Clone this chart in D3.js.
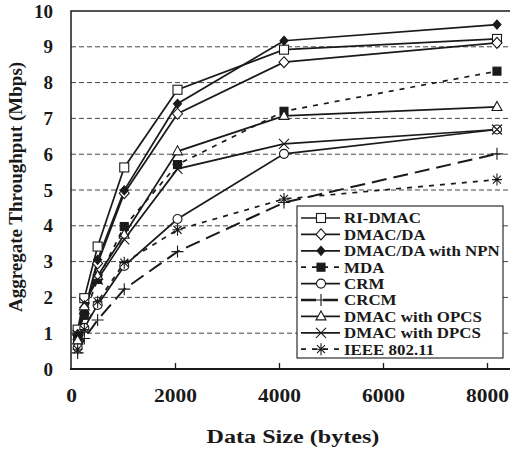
<!DOCTYPE html>
<html><head><meta charset="utf-8">
<script src="https://cdn.jsdelivr.net/npm/d3@7"></script>
<style>body{margin:0;background:#fff}</style>
</head><body><svg id="c" width="510" height="450"></svg>
<script>
// ---- data ----
const dataSizes = [128, 256, 512, 1024, 2048, 4096, 8192];
const seriesNames = ["RI-DMAC", "DMAC/DA", "DMAC/DA with NPN", "MDA", "CRM", "CRCM", "DMAC with OPCS", "DMAC with DPCS", "IEEE 802.11"];
const riDmac   = [1.1, 1.98, 3.42, 5.63, 7.80, 8.92, 9.22];
const dmacDa   = [0.95, 1.55, 2.95, 4.91, 7.13, 8.57, 9.11];
const dmacNpn  = [0.95, 1.6, 3.05, 4.99, 7.41, 9.17, 9.62];
const mda      = [0.85, 1.5, 2.5, 3.98, 5.71, 7.2, 8.32];
const crm      = [0.6, 1.15, 1.79, 2.88, 4.19, 6.01, 6.69];
const crcm     = [0.45, 0.85, 1.37, 2.23, 3.28, 4.65, 6.01];
const dmacOpcs = [0.8, 1.75, 2.6, 3.75, 6.08, 7.07, 7.32];
const dmacDpcs = [0.95, 1.85, 2.5, 3.62, 5.59, 6.29, 6.69];
const ieee     = [0.55, 1.1, 1.88, 2.97, 3.89, 4.75, 5.29];
const xTicks = [0, 2000, 4000, 6000, 8000];
const yTicks = [0, 1, 2, 3, 4, 5, 6, 7, 8, 9, 10];
const xTitle = "Data Size (bytes)";
const yTitle = "Aggregate Throughput (Mbps)";

const seriesValues = [riDmac, dmacDa, dmacNpn, mda, crm, crcm, dmacOpcs, dmacDpcs, ieee];
// styles (kept apart from data)
const styles = [
  {marker: "square", dash: null},
  {marker: "diamond", dash: null},
  {marker: "fdiamond", dash: null},
  {marker: "fsquare", dash: "5,6"},
  {marker: "circle", dash: null},
  {marker: "plus", dash: "15,7"},
  {marker: "triangle", dash: null},
  {marker: "x", dash: null},
  {marker: "star", dash: "5,6"}
];

const ink = "#1a1a1a";
const font = "'Liberation Serif','Times New Roman',serif";
const svg = d3.select("#c");
const L = 71, R = 511, T = 11, B = 369;
const x = d3.scaleLinear().domain([0, 8000]).range([L, 487]);
const y = d3.scaleLinear().domain([0, 10]).range([B, T]);

svg.append("rect").attr("width", 510).attr("height", 450).attr("fill", "#fff");

// gridlines
svg.append("g").selectAll("line").data(yTicks.filter(d => d > 0 && d < 10)).join("line")
  .attr("x1", L).attr("x2", R).attr("y1", d => y(d)).attr("y2", d => y(d))
  .attr("stroke", "#444").attr("stroke-width", 1).attr("stroke-dasharray", "5,3");

// axes
const xAxis = d3.axisBottom(x).tickValues(xTicks).tickSize(-6).tickPadding(20).tickFormat(d3.format("d"));
const gx = svg.append("g").attr("transform", `translate(0,${B})`).call(xAxis);
const yAxis = d3.axisLeft(y).tickValues(yTicks).tickSize(0).tickPadding(18);
const gy = svg.append("g").attr("transform", `translate(${L},0)`).call(yAxis);
[gx, gy].forEach(g => {
  g.select(".domain").remove();
  g.selectAll("line").attr("stroke", ink).attr("stroke-width", 1.3);
  g.selectAll("text").attr("font-family", font).attr("font-weight", "bold")
    .attr("font-size", 19).attr("fill", ink);
});
gx.selectAll("text").attr("transform", "scale(1.13,1)");
gx.selectAll(".tick").filter(d => d === 0).select("line").remove();

// frame
svg.append("rect").attr("x", L).attr("y", T).attr("width", R - L).attr("height", B - T)
  .attr("fill", "none").attr("stroke", ink).attr("stroke-width", 1.5);
svg.append("line").attr("x1", L - 1).attr("x2", R).attr("y1", B).attr("y2", B)
  .attr("stroke", ink).attr("stroke-width", 2.2);

// titles
svg.append("text").attr("transform", "translate(293,443) scale(1.27,1)").attr("text-anchor", "middle")
  .attr("font-family", font).attr("font-weight", "bold").attr("font-size", 19).attr("fill", ink)
  .text(xTitle);
svg.append("text").attr("transform", "translate(22,187) rotate(-90)").attr("text-anchor", "middle")
  .attr("font-family", font).attr("font-weight", "bold").attr("font-size", 19).attr("fill", ink)
  .text(yTitle);

// marker drawer
function marker(g, type, cx, cy) {
  const s = g.append("g").attr("transform", `translate(${cx},${cy})`);
  const st = (el, fill) => el.attr("stroke", ink).attr("stroke-width", 1.1).attr("fill", fill);
  switch (type) {
    case "square": st(s.append("rect").attr("x", -4.5).attr("y", -4.5).attr("width", 9).attr("height", 9), "#fff"); break;
    case "fsquare": st(s.append("rect").attr("x", -4).attr("y", -4).attr("width", 8).attr("height", 8), ink); break;
    case "diamond": st(s.append("path").attr("d", "M0,-5.5L5,0L0,5.5L-5,0Z"), "#fff"); break;
    case "fdiamond": st(s.append("path").attr("d", "M0,-4.5L4,0L0,4.5L-4,0Z"), ink); break;
    case "circle": st(s.append("circle").attr("r", 4.5), "#fff"); break;
    case "triangle": st(s.append("path").attr("d", "M0,-5.5L5,3.5L-5,3.5Z"), "#fff"); break;
    case "plus": st(s.append("path").attr("d", "M-6,0H6M0,-6V6"), "none"); break;
    case "x": st(s.append("path").attr("d", "M-5,-5L5,5M-5,5L5,-5"), "none"); break;
    case "star": st(s.append("path").attr("d", "M-5,0H5M0,-6V6M-4,-4L4,4M-4,4L4,-4"), "none"); break;
  }
}

// series
const line = d3.line().x((d, i) => x(dataSizes[i])).y(d => y(d));
const plot = svg.append("g");
seriesValues.forEach((vals, k) => {
  plot.append("path").attr("d", line(vals)).attr("fill", "none").attr("stroke", ink)
    .attr("stroke-width", styles[k].marker === "plus" ? 2 : 1.7)
    .attr("stroke-dasharray", styles[k].dash);
});
seriesValues.forEach((vals, k) => {
  vals.forEach((v, i) => marker(plot, styles[k].marker, x(dataSizes[i]), y(v)));
});

// legend
const lg = svg.append("g");
lg.append("rect").attr("x", 297).attr("y", 206).attr("width", 206).attr("height", 152)
  .attr("fill", "#fff").attr("stroke", ink).attr("stroke-width", 1.1);
seriesNames.forEach((name, k) => {
  const yy = 218 + k * 16.4;
  lg.append("line").attr("x1", 301).attr("x2", 340).attr("y1", yy).attr("y2", yy)
    .attr("stroke", ink).attr("stroke-width", styles[k].marker === "plus" ? 2.5 : 1.7)
    .attr("stroke-dasharray", styles[k].dash);
  marker(lg, styles[k].marker, 321, yy);
  lg.append("text").attr("transform", `translate(344,${yy}) scale(1.09,1)`).attr("dy", "0.35em")
    .attr("font-family", font).attr("font-weight", "bold").attr("font-size", 15.5).attr("fill", ink)
    .text(name);
});
</script></body></html>
